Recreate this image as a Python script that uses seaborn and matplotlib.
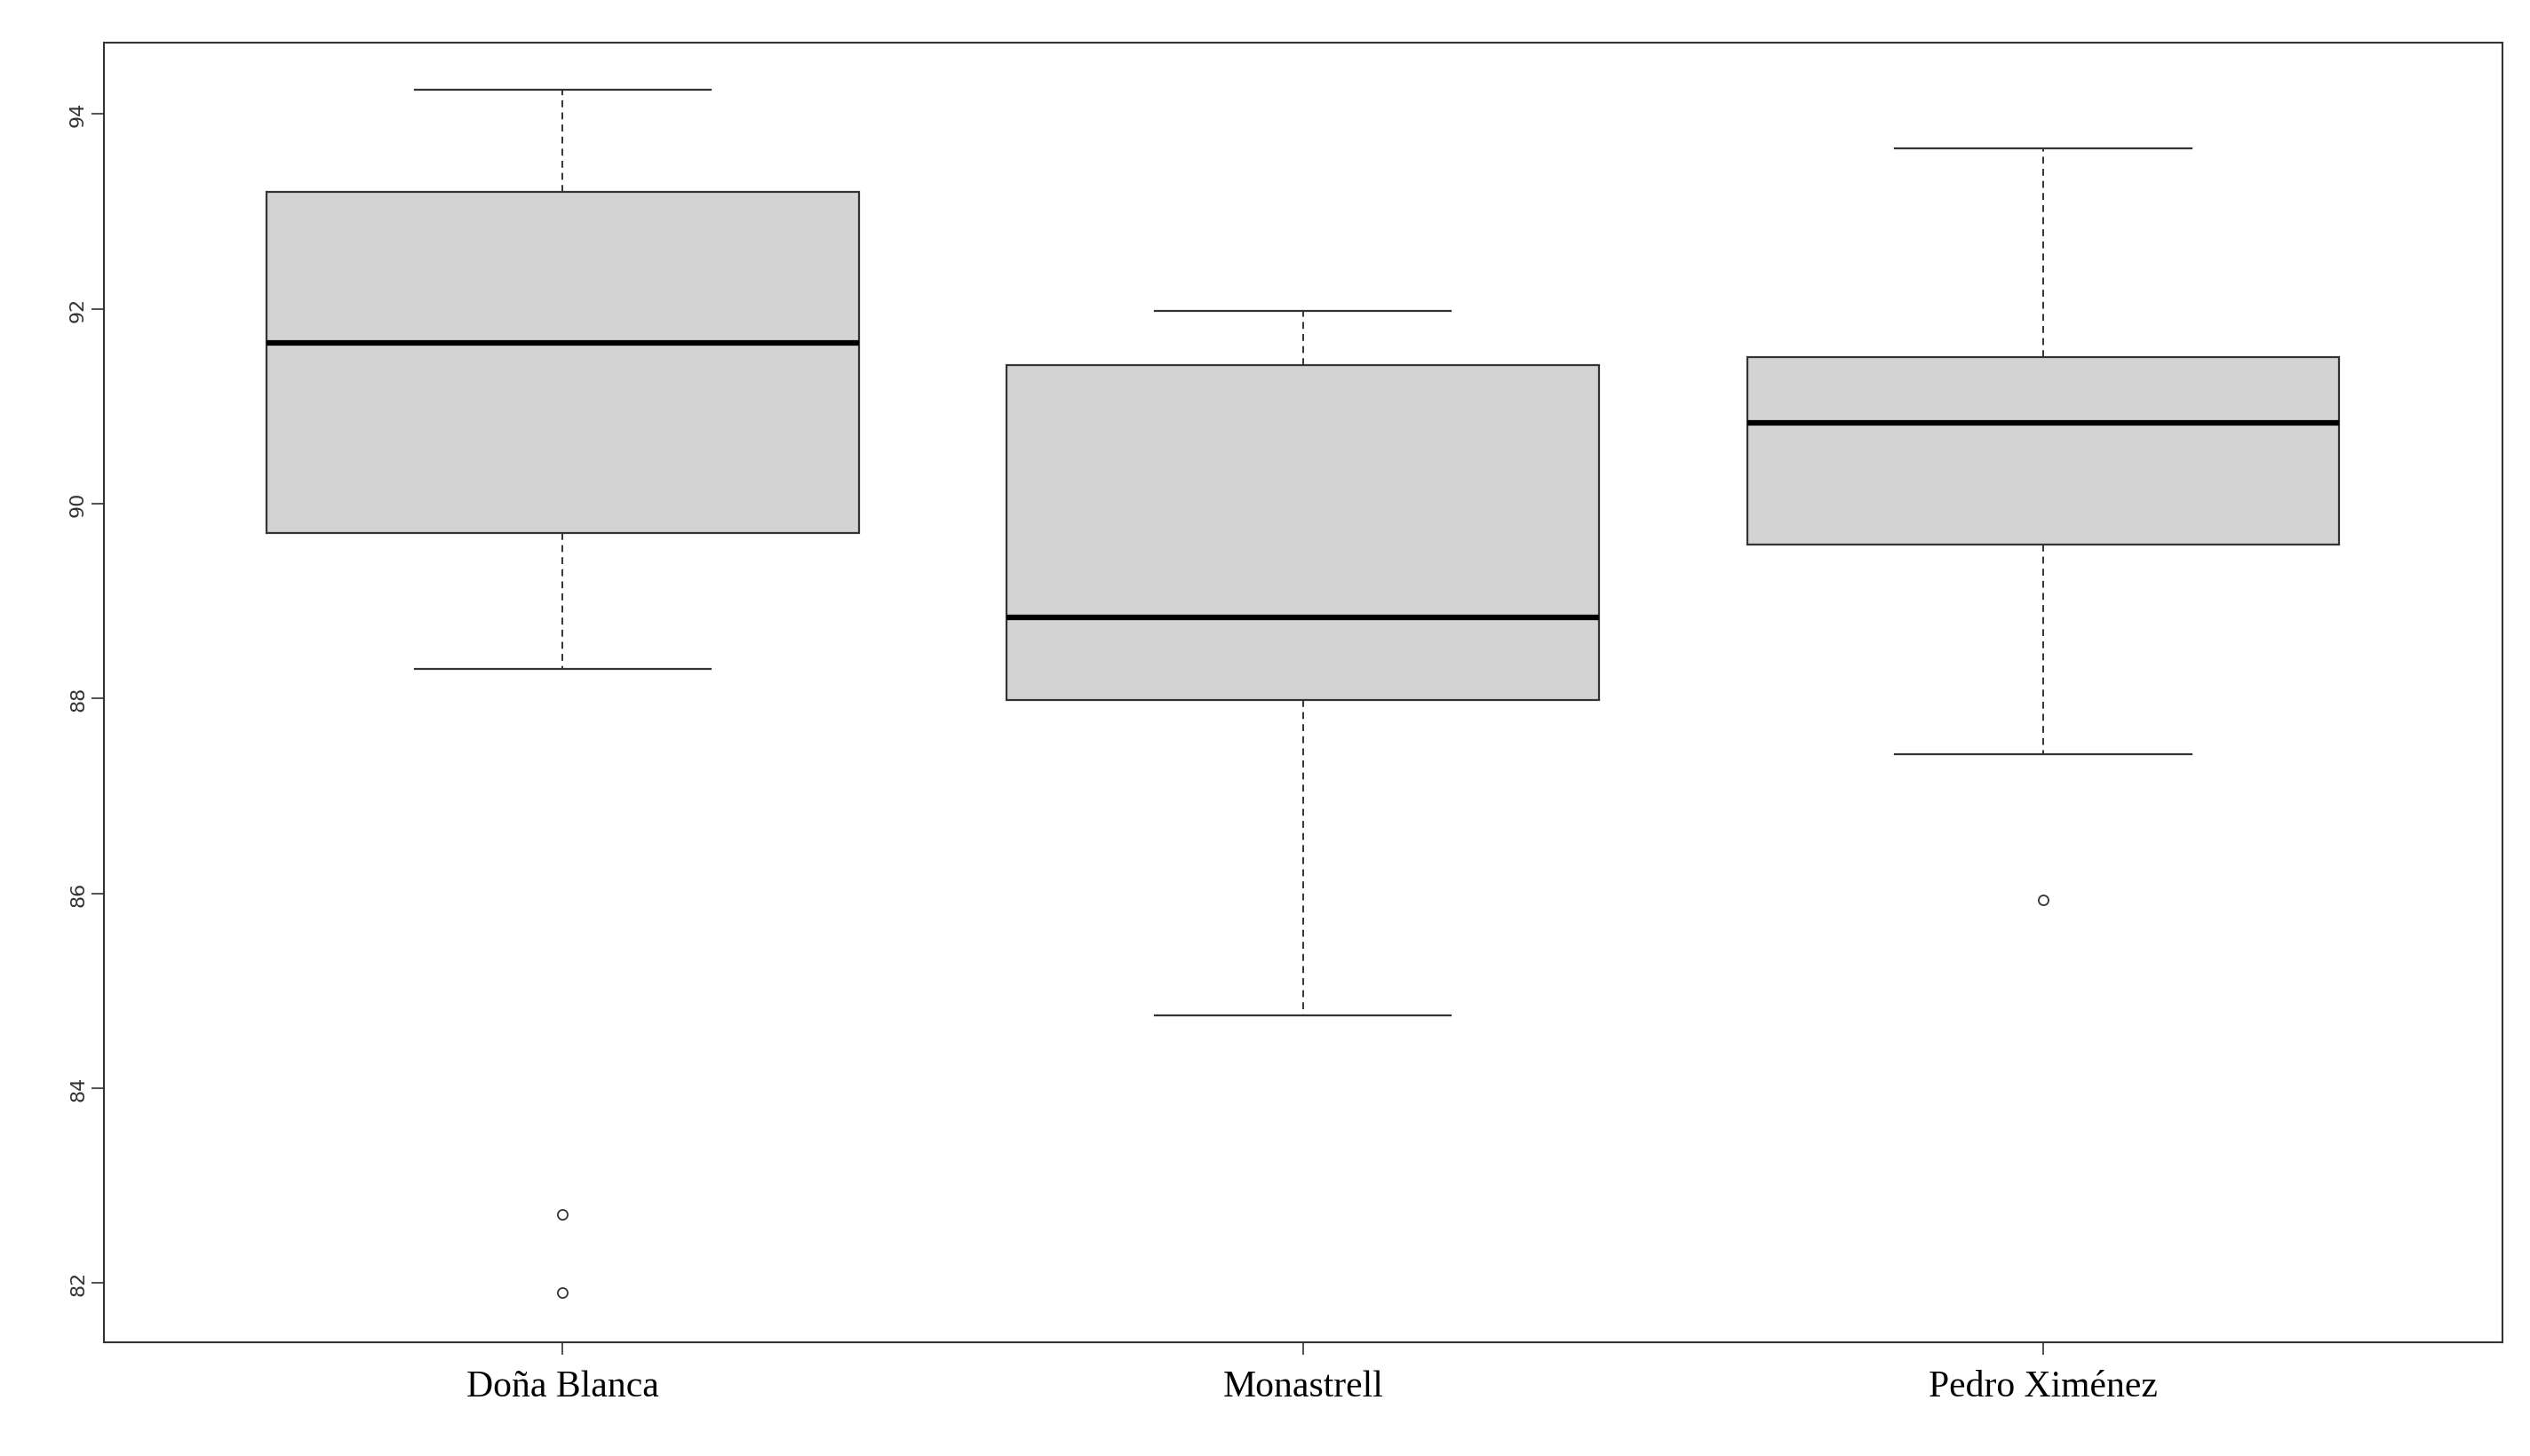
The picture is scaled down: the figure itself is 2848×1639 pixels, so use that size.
import matplotlib
matplotlib.use("Agg")
import matplotlib.pyplot as plt
import pandas as pd
import seaborn as sns

# observaciones por variedad (reconstruidas para reproducir los cuartiles)
dona_blanca = [81.9, 82.7, 88.3, 89.7, 90.5, 91.0, 91.65, 92.0, 92.5, 93.2, 93.8, 94.0, 94.25]
monastrell = [84.75, 86.5, 87.98, 88.3, 88.83, 90.0, 91.42, 91.7, 91.98]
pedro_ximenez = [85.93, 87.43, 89.58, 90.2, 90.83, 91.2, 91.5, 92.5, 93.65]
varieties = ["Doña Blanca", "Monastrell", "Pedro Ximénez"]
y_ticks = [82, 84, 86, 88, 90, 92, 94]

df = pd.DataFrame({
    "variety": [varieties[0]] * len(dona_blanca)
    + [varieties[1]] * len(monastrell)
    + [varieties[2]] * len(pedro_ximenez),
    "value": dona_blanca + monastrell + pedro_ximenez,
})

fig = plt.figure(figsize=(28.48, 16.4), dpi=100, facecolor="white")
ax = fig.add_axes([0.041, 0.078, 0.948, 0.892])

sns.boxplot(
    data=df, x="variety", y="value", order=varieties,
    color="#D3D3D3", width=0.8, linewidth=1.6, saturation=1,
    boxprops=dict(edgecolor="#333333", facecolor="#D3D3D3"),
    whiskerprops=dict(linestyle=(0, (4, 3)), color="#333333", linewidth=1.4),
    capprops=dict(color="#333333", linewidth=1.6),
    medianprops=dict(color="black", linewidth=4.5),
    flierprops=dict(marker="o", markersize=8, markerfacecolor="white",
                    markeredgecolor="#333333", markeredgewidth=1.3),
    ax=ax,
)

ax.set_xlim(-0.62, 2.62)
ax.set_ylim(81.39, 94.73)
ax.set_yticks(y_ticks)
ax.set_yticklabels([str(t) for t in y_ticks], rotation=90, va="center",
                   fontsize=16, color="#333333")
ax.tick_params(axis="both", length=10, width=1.2, color="#333333")
ax.tick_params(axis="x", labelsize=30, pad=12)
for lbl in ax.get_xticklabels():
    lbl.set_family(["Liberation Serif", "DejaVu Serif"])
ax.set_xlabel("")
ax.set_ylabel("")
for s in ax.spines.values():
    s.set_color("#333333")
    s.set_linewidth(1.5)

fig.savefig("out.png", dpi=100, facecolor="white")
